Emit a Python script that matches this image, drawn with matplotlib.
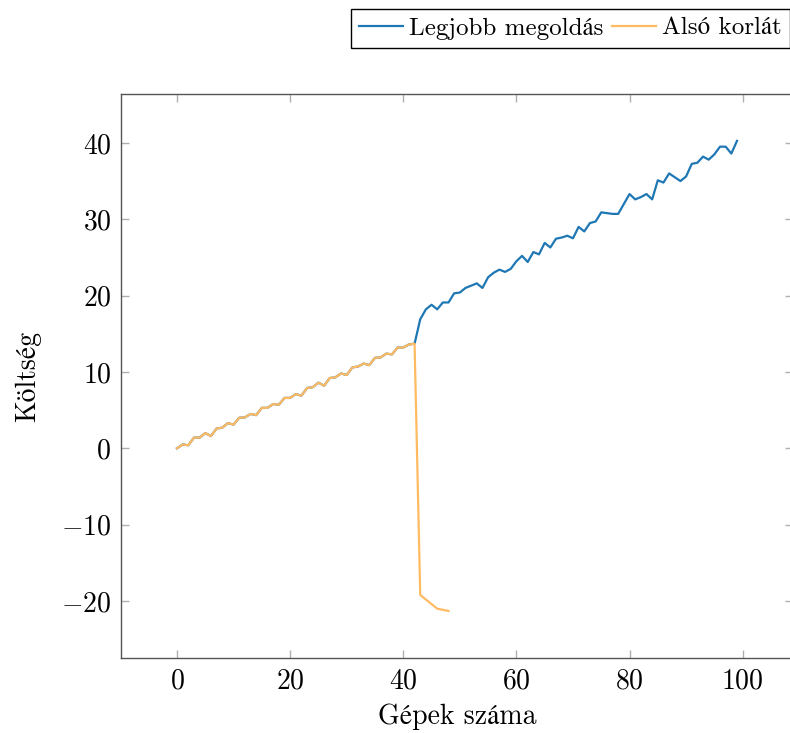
import matplotlib
matplotlib.use("Agg")
import matplotlib.pyplot as plt
import numpy as np

# %%
plt.rcParams["font.family"] = ["cmr10", "STIXGeneral"]
plt.rcParams["mathtext.fontset"] = "cm"
plt.rcParams["axes.formatter.use_mathtext"] = True

# %%
machines = np.arange(0, 100)
best_cost = [
    0.0, 0.5, 0.4, 1.4, 1.4, 2.0, 1.6, 2.6, 2.7, 3.3,
    3.1, 4.0, 4.05, 4.5, 4.35, 5.3, 5.3, 5.8, 5.7, 6.6,
    6.6, 7.1, 6.9, 7.9, 8.0, 8.6, 8.2, 9.2, 9.3, 9.8,
    9.6, 10.6, 10.7, 11.1, 10.9, 11.85, 11.9, 12.4, 12.3, 13.2,
    13.2, 13.6, 13.7, 16.9, 18.2, 18.8, 18.2, 19.1, 19.1, 20.3,
    20.4, 21.0, 21.3, 21.6, 21.0, 22.4, 23.0, 23.4, 23.1, 23.5,
    24.5, 25.2, 24.4, 25.7, 25.4, 26.9, 26.3, 27.45, 27.6, 27.84,
    27.5, 29.0, 28.4, 29.5, 29.7, 30.9, 30.8, 30.7, 30.7, 32.0,
    33.3, 32.6, 32.9, 33.3, 32.6, 35.1, 34.8, 36.0, 35.5, 35.0,
    35.6, 37.25, 37.4, 38.2, 37.8, 38.5, 39.5, 39.5, 38.6, 40.26,
]
lower_x = list(range(0, 44)) + [46, 48]
lower_bound = best_cost[:43] + [-19.2, -21.0, -21.3]

# %%
fig = plt.figure(figsize=(7.9, 7.33), dpi=100)
ax = fig.add_axes([121 / 790, 1 - 658 / 733, 672 / 790, 564 / 733])

ax.plot(machines, best_cost, color="#1f77b4", lw=1.6, label="Legjobb megoldás")
ax.plot(lower_x, lower_bound, color="#ffbb62", lw=1.6, label="Alsó korlát")

ax.set_xlim(-9.9, 108.9)
ax.set_ylim(-27.46, 46.4)
ax.set_xticks([0, 20, 40, 60, 80, 100])
ax.set_yticks([-20, -10, 0, 10, 20, 30, 40])

ax.tick_params(direction="in", top=True, right=True, length=6, width=1,
               color="#b0b0b0", labelsize=20, pad=7)
for s in ax.spines.values():
    s.set_color("#555555")
    s.set_linewidth(1)

ax.set_xlabel("Gépek száma", fontsize=20, labelpad=7)
ax.set_ylabel("Költség", fontsize=20, labelpad=14)

fig.legend(loc="upper right", bbox_to_anchor=(1.0, 1 - 9 / 733), ncol=2,
           fontsize=18, frameon=True, fancybox=False, edgecolor="black",
           framealpha=1, handlelength=1.75, handletextpad=0.25,
           columnspacing=0.35, borderpad=0.32, borderaxespad=0)

fig.savefig("out.png", dpi=100)
